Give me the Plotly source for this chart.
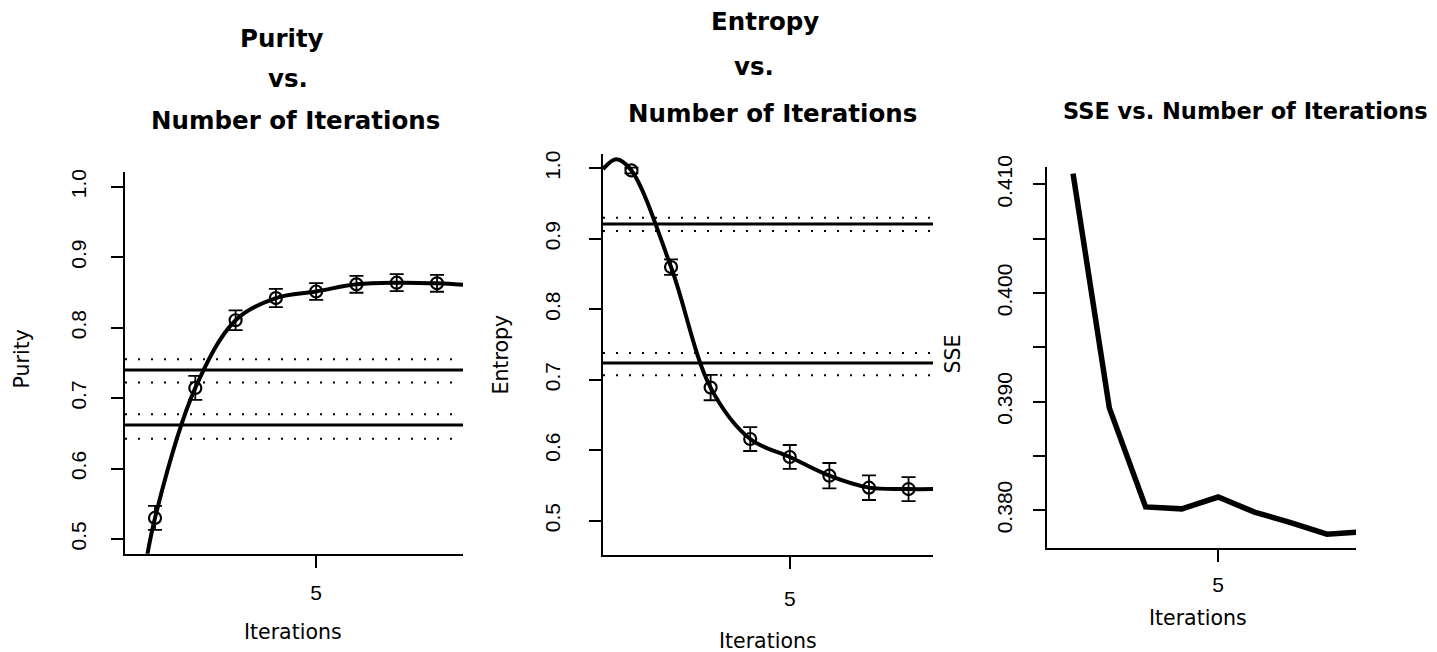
import plotly.graph_objects as go

# ---------------- data ----------------
iterations = [1, 2, 3, 4, 5, 6, 7, 8]

purity = [0.530, 0.7145, 0.8106, 0.8421, 0.8514, 0.8616, 0.8639, 0.8630]
purity_err = [0.017, 0.017, 0.014, 0.013, 0.012, 0.012, 0.012, 0.012]
# smooth fitted curve knots (incl. the extension beyond the first/last points)
purity_curve_x = [0.70, 1, 2, 3, 4, 5, 6, 7, 8, 8.65]
purity_curve_y = [0.440, 0.530, 0.7145, 0.8106, 0.8421, 0.8514, 0.8616, 0.8639, 0.8630, 0.861]
purity_ref = [0.740, 0.662]
purity_ref_bounds = [0.7553, 0.7223, 0.6773, 0.6423]

entropy = [0.997, 0.860, 0.689, 0.616, 0.5905, 0.564, 0.547, 0.545]
entropy_err = [0.004, 0.011, 0.018, 0.017, 0.017, 0.018, 0.0175, 0.017]
entropy_curve_x = [0.28, 0.62, 1, 2, 3, 4, 5, 6, 7, 8, 8.62]
entropy_curve_y = [0.999, 1.013, 0.997, 0.860, 0.689, 0.616, 0.5905, 0.564, 0.547, 0.545, 0.545]
entropy_ref = [0.921, 0.724]
entropy_ref_bounds = [0.930, 0.911, 0.738, 0.7066]

sse_iterations = [1, 2, 3, 4, 5, 6, 7, 8, 9]
sse = [0.4110, 0.38942, 0.3803, 0.38012, 0.38121, 0.37982, 0.37885, 0.37779, 0.37801]

y_ticks_pe = [0.5, 0.6, 0.7, 0.8, 0.9, 1.0]
y_ticktext_pe = ["0.5", "0.6", "0.7", "0.8", "0.9", "1.0"]
y_ticks_sse = [0.380, 0.385, 0.390, 0.395, 0.400, 0.405, 0.410]
y_ticktext_sse = ["0.380", "", "0.390", "", "0.400", "", "0.410"]
x_ticks = [5]
x_ticktext = ["5"]

# ---------------- layout geometry (pixels) ----------------
W, H = 1437, 652
def xd(a, b):
    return [a / W, b / W]
def yd(top, bottom):
    return [1 - bottom / H, 1 - top / H]

TICKFONT = dict(family="Liberation Sans, Arial, sans-serif", size=21, color="black")
LABFONT = dict(family="DejaVu Sans, sans-serif", size=20.5, color="black")
TITLEFONT = dict(family="DejaVu Sans, sans-serif", size=24.5, color="black", weight="bold")
TITLEFONT3 = dict(family="DejaVu Sans, sans-serif", size=22.5, color="black", weight="bold")

fig = go.Figure()

# Purity panel
fig.add_trace(go.Scatter(x=purity_curve_x, y=purity_curve_y, mode="lines",
                         line=dict(color="black", width=4, shape="spline", smoothing=1.0),
                         xaxis="x", yaxis="y", hoverinfo="skip"))
fig.add_trace(go.Scatter(x=iterations, y=purity, mode="markers",
                         marker=dict(symbol="circle-open", size=12, color="black",
                                     line=dict(width=2.2, color="black")),
                         error_y=dict(type="data", array=purity_err, color="black",
                                      thickness=1.8, width=7),
                         xaxis="x", yaxis="y"))

# Entropy panel
fig.add_trace(go.Scatter(x=entropy_curve_x, y=entropy_curve_y, mode="lines",
                         line=dict(color="black", width=4, shape="spline", smoothing=1.0),
                         xaxis="x2", yaxis="y2", hoverinfo="skip"))
fig.add_trace(go.Scatter(x=iterations, y=entropy, mode="markers",
                         marker=dict(symbol="circle-open", size=12, color="black",
                                     line=dict(width=2.2, color="black")),
                         error_y=dict(type="data", array=entropy_err, color="black",
                                      thickness=1.8, width=7),
                         xaxis="x2", yaxis="y2"))

# SSE panel
fig.add_trace(go.Scatter(x=sse_iterations, y=sse, mode="lines",
                         line=dict(color="black", width=5.5),
                         xaxis="x3", yaxis="y3"))

shapes = []
def hline(xref, yref, yv, width, dash):
    shapes.append(dict(type="line", xref=xref + " domain", yref=yref, x0=0, x1=1,
                       y0=yv, y1=yv, layer="below",
                       line=dict(color="black", width=width, dash=dash)))

for v in purity_ref:
    hline("x", "y", v, 3, "solid")
for v in purity_ref_bounds:
    hline("x", "y", v, 2, "2px,11px")
for v in entropy_ref:
    hline("x2", "y2", v, 3, "solid")
for v in entropy_ref_bounds:
    hline("x2", "y2", v, 2, "2px,11px")

axis_common = dict(showline=True, linecolor="black", linewidth=1.5, ticks="outside",
                   ticklen=12, tickwidth=1.5, tickcolor="black", showgrid=False,
                   zeroline=False, tickfont=TICKFONT, fixedrange=True)

annotations = []
def ann(text, x, y, font, angle=0):
    annotations.append(dict(text=text, x=x / W, y=1 - y / H, xref="paper", yref="paper",
                            xanchor="center", yanchor="middle", showarrow=False,
                            font=font, textangle=angle))

# titles
ann("Purity", 282, 27, TITLEFONT)
ann("vs.", 288, 68, TITLEFONT)
ann("Number of Iterations", 295, 111, TITLEFONT)
ann("Entropy", 765, 10, TITLEFONT)
ann("vs.", 754, 56, TITLEFONT)
ann("Number of Iterations", 773, 103, TITLEFONT)
ann("SSE vs. Number of Iterations", 1245, 101, TITLEFONT3)
# axis labels
ann("Purity", 22, 354, LABFONT, -90)
ann("Entropy", 501, 349, LABFONT, -90)
ann("SSE", 953, 348, LABFONT, -90)
ann("Iterations", 293, 632, LABFONT)
ann("Iterations", 768, 641, LABFONT)
ann("Iterations", 1198, 617, LABFONT)

fig.update_layout(
    width=W, height=H, margin=dict(l=0, r=0, t=0, b=0),
    paper_bgcolor="white", plot_bgcolor="white", showlegend=False,
    xaxis=dict(domain=xd(125, 463), range=[0.255, 8.645], anchor="y",
               tickvals=x_ticks, ticktext=x_ticktext, ticklabelstandoff=7, **axis_common),
    yaxis=dict(domain=yd(163, 552), range=[0.479, 1.021], anchor="x",
               tickvals=y_ticks_pe, ticktext=y_ticktext_pe, tickangle=-90,
               ticklabelstandoff=17, **axis_common),
    xaxis2=dict(domain=xd(603, 933), range=[0.281, 8.618], anchor="y2",
                tickvals=x_ticks, ticktext=x_ticktext, ticklabelstandoff=12, **axis_common),
    yaxis2=dict(domain=yd(145, 553), range=[0.4517, 1.0199], anchor="x2",
                tickvals=y_ticks_pe, ticktext=y_ticktext_pe, tickangle=-90,
                ticklabelstandoff=21, **axis_common),
    xaxis3=dict(domain=xd(1047, 1356), range=[0.282, 8.80], anchor="y3",
                tickvals=x_ticks, ticktext=x_ticktext, ticklabelstandoff=5, **axis_common),
    yaxis3=dict(domain=yd(158, 546), range=[0.37652, 0.4116], anchor="x3",
                tickvals=y_ticks_sse, ticktext=y_ticktext_sse, tickangle=-90,
                ticklabelstandoff=13, **axis_common),
    shapes=shapes, annotations=annotations,
)

fig.write_html("out.html")
